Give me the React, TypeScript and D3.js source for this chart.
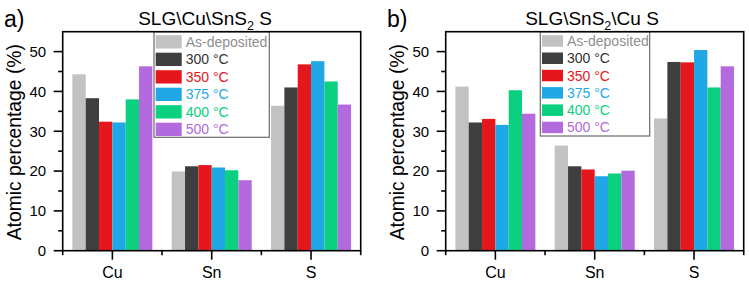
import React from "react";
import * as d3 from "d3";

const categories = ["Cu", "Sn", "S"];
const seriesNames = ["As-deposited", "300 °C", "350 °C", "375 °C", "400 °C", "500 °C"];
const seriesColors = ["#c2c2c2", "#3f3f3f", "#e5161c", "#1fa7e6", "#0bd07f", "#b36ade"];
const legendTextColors = ["#8f8f8f", "#333333", "#e5161c", "#1fa7e6", "#0bd07f", "#b36ade"];
const yTicks = [0, 10, 20, 30, 40, 50];
const yMinorTicks = [5, 15, 25, 35, 45];

// Panel a) SLG\Cu\SnS2 S
const aAsDeposited = [44.3, 19.9, 36.4];
const a300 = [38.3, 21.2, 41.0];
const a350 = [32.4, 21.5, 46.8];
const a375 = [32.2, 20.9, 47.6];
const a400 = [38.0, 20.2, 42.5];
const a500 = [46.3, 17.7, 36.7];

// Panel b) SLG\SnS2\Cu S
const bAsDeposited = [41.2, 26.4, 33.2];
const b300 = [32.2, 21.2, 47.4];
const b350 = [33.1, 20.4, 47.3];
const b375 = [31.6, 18.7, 50.4];
const b400 = [40.3, 19.4, 41.0];
const b500 = [34.4, 20.1, 46.3];

const FONT = "'Liberation Sans', Arial, Helvetica, sans-serif";

type PanelProps = {
  ox: number;
  label: string;
  titleParts: [string, string, string];
  titleX: number;
  series: number[][];
  legend: { x: number; w: number; h: number; swW: number; swH: number; pitch: number; textX: number };
};

function Panel({ ox, label, titleParts, titleX, series, legend }: PanelProps) {
  const left = ox + 62.7;
  const right = ox + 360.7;
  const top = 31.7;
  const bottom = 250.7;
  const x = d3.scaleLinear().domain([0.5, 3.5]).range([left, right]);
  const y = d3.scaleLinear().domain([0, 55]).range([bottom, top]);
  const bw = 0.1342;
  const bwPx = x(bw) - x(0);
  const majorX = [1, 2, 3];
  const minorX = [0.5, 1.5, 2.5, 3.5];

  return (
    <g fontFamily={FONT}>
      <text x={ox + 4} y={27} fontSize={23} fill="#000">{label}</text>
      <text x={titleX} y={25} fontSize={19} textAnchor="middle" fill="#000">
        {titleParts[0]}
        <tspan fontSize={12.5} dy={5}>{titleParts[1]}</tspan>
        <tspan dy={-5}>{titleParts[2]}</tspan>
      </text>
      {series.map((vals, si) =>
        vals.map((v, ci) => (
          <rect
            key={`${si}-${ci}`}
            x={x(ci + 1 - 3 * bw + si * bw)}
            y={y(v)}
            width={bwPx}
            height={y(0) - y(v)}
            fill={seriesColors[si]}
          />
        ))
      )}
      {/* legend */}
      <rect x={legend.x} y={top} width={legend.w} height={legend.h} fill="white" stroke="#6b6b6b" strokeWidth={1.2} />
      {seriesNames.map((n, i) => {
        const sy = top + 3.5 + i * legend.pitch;
        return (
          <g key={n}>
            <rect x={legend.x + 1.7} y={sy} width={legend.swW} height={legend.swH} fill={seriesColors[i]} />
            <text x={legend.textX} y={sy + legend.swH / 2} dy="0.36em" fontSize={14} fill={legendTextColors[i]}>
              {n}
            </text>
          </g>
        );
      })}
      {/* frame */}
      <rect x={left} y={top} width={right - left} height={bottom - top} fill="none" stroke="#000" strokeWidth={1.6} />
      {/* y ticks */}
      {yTicks.map((t) => (
        <g key={t}>
          <line x1={left - 9} x2={left} y1={y(t)} y2={y(t)} stroke="#000" strokeWidth={1.6} />
          <text x={left - 16.5} y={y(t)} dy="0.36em" textAnchor="end" fontSize={15} fill="#000">{t}</text>
        </g>
      ))}
      {yMinorTicks.map((t) => (
        <line key={t} x1={left - 4.5} x2={left} y1={y(t)} y2={y(t)} stroke="#000" strokeWidth={1.6} />
      ))}
      {/* x ticks */}
      {majorX.map((t, i) => (
        <g key={t}>
          <line x1={x(t)} x2={x(t)} y1={bottom} y2={bottom + 9} stroke="#000" strokeWidth={1.6} />
          <text x={x(t)} y={278.3} textAnchor="middle" fontSize={16} fill="#000">{categories[i]}</text>
        </g>
      ))}
      {minorX.map((t) => (
        <line key={t} x1={x(t)} x2={x(t)} y1={bottom} y2={bottom + 4.5} stroke="#000" strokeWidth={1.6} />
      ))}
      <text
        transform={`translate(${ox + 20.5},${(top + bottom) / 2 + 1}) rotate(-90)`}
        textAnchor="middle"
        fontSize={19.3}
        fill="#000"
      >
        Atomic percentage (%)
      </text>
    </g>
  );
}

export default function App() {
  return (
    <div style={{ position: "absolute", left: 0, top: 0 }}>
      <svg width={749} height={284} style={{ display: "block", background: "#fff" }}>
        <Panel
          ox={0}
          label="a)"
          titleParts={["SLG\\Cu\\SnS", "2", " S"]}
          titleX={205}
          series={[aAsDeposited, a300, a350, a375, a400, a500]}
          legend={{ x: 154, w: 115.3, h: 105.6, swW: 26, swH: 13.3, pitch: 17.5, textX: 185.7 }}
        />
        <Panel
          ox={383}
          label="b)"
          titleParts={["SLG\\SnS", "2", "\\Cu S"]}
          titleX={592}
          series={[bAsDeposited, b300, b350, b375, b400, b500]}
          legend={{ x: 540.3, w: 109.4, h: 104.3, swW: 21, swH: 11.5, pitch: 17.3, textX: 567 }}
        />
      </svg>
    </div>
  );
}
